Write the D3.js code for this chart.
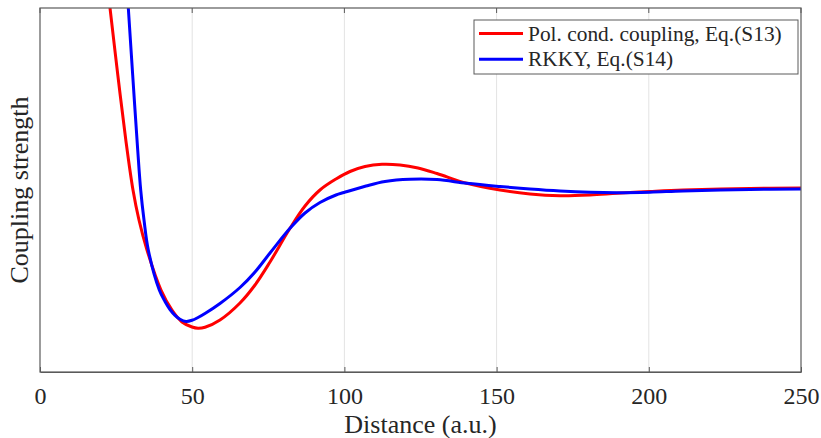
<!DOCTYPE html>
<html>
<head>
<meta charset="utf-8">
<script src="https://cdn.jsdelivr.net/npm/d3@7"></script>
<style>
	body { margin: 0; background: #fff; }
	text { font-family: "Liberation Serif", "Times New Roman", serif; fill: #262626; }
</style>
</head>
<body>
<svg id="chart" width="821" height="438"></svg>
<script>
// distances (a.u.) and coupling strength (arbitrary units)
var redX = [21.85, 23.0, 25.56, 28.19, 30.55, 32.52, 35.15, 39.75, 43.36, 46.65, 49.93, 51.91, 54.2, 59.13, 65.7, 70.63, 75.56, 82.13, 87.06, 91.98, 97.24, 101.84, 106.77, 112.35, 118.27, 124.18, 130.42, 140.18, 151.12, 160.97, 170.83, 180.68, 189.55, 200.39, 211.24, 233.25, 250.0];
var redY = [2.10, 1.80, 1.13, 0.48, -0.02, -0.32, -0.62, -1.02, -1.22, -1.34, -1.39, -1.403, -1.393, -1.32, -1.15, -0.97, -0.74, -0.403, -0.18, -0.02, 0.09, 0.165, 0.215, 0.237, 0.23, 0.20, 0.145, 0.047, -0.02, -0.06, -0.077, -0.07, -0.053, -0.035, -0.02, -0.005, 0.0];

var blueX = [28.42, 29.01, 30.45, 32.1, 33.08, 34.17, 35.58, 39.19, 41.06, 42.71, 44.35, 45.99, 47.96, 49.93, 51.91, 54.2, 59.13, 65.7, 70.63, 75.56, 82.13, 87.06, 91.98, 97.24, 99.87, 107.1, 113.34, 121.55, 130.42, 140.18, 151.12, 160.97, 170.83, 180.68, 189.55, 200.39, 211.24, 233.25, 250.0];
var blueY = [2.08, 1.80, 1.13, 0.38, -0.02, -0.32, -0.62, -1.02, -1.135, -1.215, -1.273, -1.312, -1.334, -1.323, -1.295, -1.255, -1.155, -0.995, -0.84, -0.65, -0.403, -0.25, -0.145, -0.07, -0.045, 0.02, 0.065, 0.087, 0.084, 0.047, 0.015, -0.01, -0.03, -0.043, -0.047, -0.042, -0.03, -0.015, -0.01];

var xTicks = [0, 50, 100, 150, 200, 250];
var seriesNames = ["Pol. cond. coupling, Eq.(S13)", "RKKY, Eq.(S14)"];
var seriesColors = ["#ff0000", "#0000ff"];

var margin = {left: 40, right: 20, top: 8, bottom: 66};
var width = 821, height = 438;

var svg = d3.select("#chart");

var x = d3.scaleLinear().domain([0, 250]).range([margin.left, width - margin.right]);
var y = d3.scaleLinear().domain([-1.84, 1.8]).range([height - margin.bottom, margin.top]);

var x0 = x.range()[0], x1 = x.range()[1], y0 = y.range()[0], y1 = y.range()[1];

// grid
svg.append("g").selectAll("line")
	.data(xTicks.slice(1, -1))
	.enter().append("line")
	.attr("x1", function(d){ return x(d); })
	.attr("x2", function(d){ return x(d); })
	.attr("y1", y1).attr("y2", y0)
	.attr("stroke", "#e3e3e3")
	.attr("stroke-width", 1);

svg.append("clipPath").attr("id", "clip")
	.append("rect").attr("x", x0).attr("y", y1).attr("width", x1 - x0).attr("height", y0 - y1);

var line = d3.line()
	.x(function(d){ return x(d[0]); })
	.y(function(d){ return y(d[1]); })
	.curve(d3.curveCatmullRom.alpha(0.5));

var series = [d3.zip(redX, redY), d3.zip(blueX, blueY)];

svg.append("g").attr("clip-path", "url(#clip)")
	.selectAll("path")
	.data(series)
	.enter().append("path")
	.attr("d", line)
	.attr("fill", "none")
	.attr("stroke", function(d, i){ return seriesColors[i]; })
	.attr("stroke-width", 3);

// box
svg.append("rect")
	.attr("x", x0).attr("y", y1)
	.attr("width", x1 - x0).attr("height", y0 - y1)
	.attr("fill", "none")
	.attr("stroke", "#5a5a5a")
	.attr("stroke-width", 1.2);

// bottom axis, ticks inside
var xAxis = svg.append("g")
	.attr("transform", "translate(0," + y0 + ")")
	.call(d3.axisBottom(x).tickValues(xTicks).tickSizeInner(-5).tickSizeOuter(0).tickPadding(15));
xAxis.select(".domain").attr("stroke", "#5a5a5a").attr("stroke-width", 1.2);
xAxis.selectAll(".tick line").attr("stroke", "#5a5a5a");
xAxis.selectAll("text")
	.attr("font-family", "Liberation Serif")
	.attr("font-size", 24)
	.attr("fill", "#262626");

// top ticks
svg.append("g").selectAll("line")
	.data(xTicks)
	.enter().append("line")
	.attr("x1", function(d){ return x(d); })
	.attr("x2", function(d){ return x(d); })
	.attr("y1", y1).attr("y2", y1 + 5)
	.attr("stroke", "#5a5a5a");

svg.append("text")
	.attr("x", (x0 + x1) / 2)
	.attr("y", 433)
	.attr("text-anchor", "middle")
	.attr("font-size", 26)
	.text("Distance (a.u.)");

svg.append("text")
	.attr("transform", "translate(28," + ((y0 + y1) / 2) + ") rotate(-90)")
	.attr("text-anchor", "middle")
	.attr("font-size", 26)
	.text("Coupling strength");

// legend
var legend = svg.append("g");
legend.append("rect")
	.attr("x", 474).attr("y", 20)
	.attr("width", 324).attr("height", 54)
	.attr("fill", "#fff")
	.attr("stroke", "#5a5a5a")
	.attr("stroke-width", 1);

var item = legend.selectAll(".item")
	.data(seriesNames)
	.enter().append("g")
	.attr("class", "item")
	.attr("transform", function(d, i){ return "translate(0," + (33.5 + i * 25.8) + ")"; });

item.append("line")
	.attr("x1", 479).attr("x2", 523)
	.attr("stroke", function(d, i){ return seriesColors[i]; })
	.attr("stroke-width", 3);

item.append("text")
	.attr("x", 528)
	.attr("dy", "0.33em")
	.attr("font-size", 21.4)
	.text(function(d){ return d; });
</script>
</body>
</html>
